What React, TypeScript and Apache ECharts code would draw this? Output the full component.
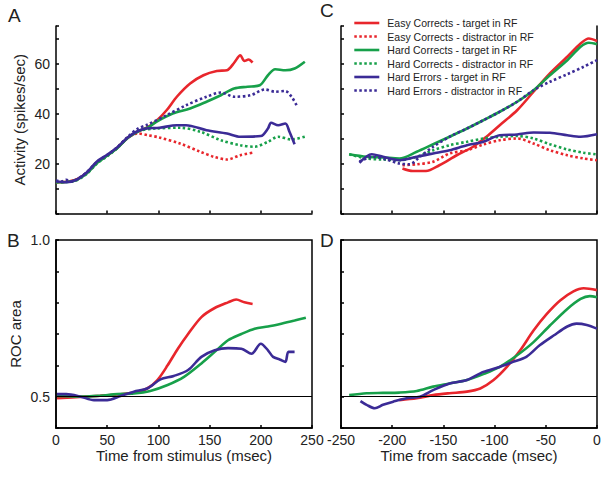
import React, { useEffect, useRef } from "react";
import * as echarts from "echarts";

// ---------- names ----------
const seriesNames = [
  "Easy Corrects - target in RF",
  "Easy Corrects - distractor in RF",
  "Hard Corrects - target in RF",
  "Hard Corrects - distractor in RF",
  "Hard Errors - target in RF",
  "Hard Errors - distractor in RF",
];

// ---------- Panel A: activity aligned on stimulus [ms, spikes/sec] ----------
const aEasyTarget = [[0,12.5],[10,12.7],[20,13.6],[30,16.2],[40,20.4],[50,23.2],[60,26.3],[70,30.2],[80,32.8],[90,34.6],[98,37],[108,41.3],[118,46.7],[131,52],[144,55.3],[157,57],[167,57.3],[174,60.3],[180,63.3],[184,61],[188,61.6],[192,60.4]];
const aEasyDistr = [[0,12.5],[10,12.7],[20,13.5],[30,16.3],[40,20.5],[50,23.3],[60,26.5],[70,30.4],[80,32],[90,31.3],[100,30.5],[121,28],[141,24.7],[154,22.7],[167,21.6],[180,23.3],[192,24.3]];
const aHardTarget = [[0,12.5],[10,12.6],[20,13.4],[30,16],[40,20.2],[50,23.1],[60,26.2],[70,30.2],[80,32.8],[90,34.4],[98,36.7],[114,40],[131,42],[147,44.7],[161,47.3],[174,50],[187,50.7],[199,51.3],[207,55.3],[214,57.7],[224,57.3],[233,58],[243,60.7]];
const aHardDistr = [[0,12.5],[10,12.6],[20,13.3],[30,15.8],[40,20],[50,22.9],[60,26.2],[70,30.3],[80,33],[98,34],[121,34.3],[141,32.7],[161,29.3],[180,27.3],[194,26.7],[207,28.7],[217,30.7],[230,29.6],[245,31]];
const aErrTarget = [[0,12.8],[10,12.5],[20,13.5],[30,16.4],[40,20.8],[50,23.5],[60,26.5],[70,30.4],[80,33],[88,34],[101,34.3],[118,35.3],[127,35.3],[147,33.3],[167,32],[180,30.7],[200,31],[207,34],[210,36.3],[217,35.3],[224,36],[228,32.7],[233,27.7]];
const aErrDistr = [[0,13.2],[5,12.8],[10,13.5],[15,12.8],[20,13.6],[30,16.5],[40,20.6],[50,23.4],[60,26.6],[70,30.6],[80,34],[88,35.3],[108,39.3],[127,43.3],[147,46.7],[161,48.4],[174,46.7],[190,47.3],[204,49.6],[214,48.7],[224,49],[230,46.7],[235,43.3]];

// ---------- Panel C: activity aligned on saccade [ms, spikes/sec] ----------
const cEasyTarget = [[-190,18],[-180,17],[-167,17],[-154,19.3],[-137,23.3],[-121,26.7],[-108,30.7],[-95,35.3],[-78,41.3],[-62,48.7],[-46,56],[-29,62.7],[-16,68],[-8,70],[0,69]];
const cEasyDistr = [[-190,19.3],[-176,19.7],[-160,20.7],[-144,24],[-127,25.3],[-111,27.6],[-95,29.3],[-78,30],[-62,28],[-46,25.3],[-29,23.3],[-13,22],[0,21.3]];
const cHardTarget = [[-242,23.7],[-225,22.7],[-209,22.4],[-193,22],[-176,24.7],[-160,27.7],[-144,30.7],[-127,34],[-111,37.3],[-95,40.7],[-78,44.7],[-62,49.3],[-46,55.3],[-29,61.3],[-16,66.7],[-8,68.3],[0,67.7]];
const cHardDistr = [[-242,23.7],[-225,22],[-209,21.6],[-193,21.3],[-176,22.7],[-160,25.3],[-144,27.3],[-127,28.7],[-111,30],[-95,30.7],[-78,31],[-62,30],[-46,27.7],[-29,25.6],[-13,24.3],[0,23.6]];
const cErrTarget = [[-232,20.3],[-220,23.7],[-209,22.7],[-193,21.3],[-176,22.7],[-160,24],[-144,25.3],[-127,27.3],[-111,28.7],[-95,31.3],[-78,31.6],[-62,32.4],[-46,32.3],[-29,31.3],[-16,30.7],[0,31.7]];
const cErrDistr = [[-232,20.7],[-219,22.7],[-206,21.6],[-193,20],[-183,19.7],[-173,22.7],[-160,26.7],[-144,30.7],[-127,34],[-111,37.3],[-95,40.7],[-78,44.7],[-62,49.3],[-46,52.7],[-29,55.7],[-13,58.7],[0,61.3]];

// ---------- Panel B: ROC area aligned on stimulus ----------
const bEasy = [[1,0.495],[27,0.5],[43,0.503],[60,0.507],[76,0.513],[89,0.526],[99,0.553],[109,0.6],[119,0.653],[129,0.7],[142,0.754],[155,0.783],[168,0.801],[176,0.81],[184,0.801],[192,0.796]];
const bHard = [[1,0.502],[27,0.5],[43,0.503],[60,0.508],[76,0.51],[92,0.518],[109,0.537],[125,0.563],[142,0.606],[155,0.643],[168,0.68],[181,0.7],[194,0.717],[207,0.724],[220,0.733],[233,0.743],[244,0.752]];
const bErr = [[1,0.508],[10,0.508],[24,0.5],[37,0.489],[50,0.489],[63,0.502],[76,0.516],[89,0.526],[102,0.555],[115,0.566],[129,0.585],[142,0.627],[155,0.648],[168,0.655],[181,0.653],[191,0.637],[200,0.669],[207,0.648],[212,0.627],[219,0.618],[224,0.611],[227,0.643],[233,0.643]];

// ---------- Panel D: ROC area aligned on saccade ----------
const dEasy = [[-193,0.489],[-176,0.495],[-160,0.505],[-144,0.511],[-127,0.516],[-114,0.526],[-101,0.553],[-88,0.595],[-75,0.648],[-62,0.711],[-49,0.764],[-36,0.807],[-23,0.836],[-13,0.846],[0,0.84]];
const dHard = [[-242,0.505],[-225,0.511],[-209,0.512],[-193,0.513],[-176,0.518],[-160,0.532],[-144,0.542],[-127,0.553],[-111,0.572],[-95,0.595],[-78,0.632],[-62,0.674],[-46,0.727],[-29,0.78],[-16,0.812],[-7,0.821],[0,0.817]];
const dErr = [[-231,0.486],[-225,0.474],[-217,0.463],[-209,0.474],[-199,0.484],[-186,0.495],[-173,0.5],[-160,0.521],[-144,0.542],[-127,0.553],[-111,0.579],[-95,0.595],[-82,0.611],[-69,0.627],[-56,0.664],[-42,0.696],[-29,0.724],[-20,0.733],[-10,0.729],[0,0.717]];

const stimTicks = [0, 250];
const saccTicks = [-250, 0];
const activityRange = [0, 75];
const rocRange = [0.4, 1.0];

const RED = "#e8262c";
const GREEN = "#17a04a";
const BLUE = "#3b2b96";
const FONT = "'Liberation Sans', Arial, Helvetica, sans-serif";

export default function App() {
  const ref = useRef<HTMLDivElement>(null);

  useEffect(() => {
    if (!ref.current) return;
    const chart = echarts.init(ref.current, undefined, { renderer: "svg" });

    const colors = [RED, RED, GREEN, GREEN, BLUE, BLUE];
    const dotted = [false, true, false, true, false, true];

    const lineSeries = (name: string, data: number[][], xi: number, yi: number, color: string, isDotted: boolean, extra: any = {}) => ({
      type: "line",
      name,
      xAxisIndex: xi,
      yAxisIndex: yi,
      data,
      showSymbol: false,
      symbol: "none",
      smooth: 0.3,
      lineStyle: {
        color,
        width: 2.6,
        type: isDotted ? [2.5, 2.5] : "solid",
        cap: "butt",
      },
      itemStyle: { color },
      z: 3,
      ...extra,
    });

    const aData = [aEasyTarget, aEasyDistr, aHardTarget, aHardDistr, aErrTarget, aErrDistr];
    const cData = [cEasyTarget, cEasyDistr, cHardTarget, cHardDistr, cErrTarget, cErrDistr];

    const series: any[] = [];
    aData.forEach((d, i) => series.push(lineSeries(seriesNames[i], d, 0, 0, colors[i], dotted[i])));
    cData.forEach((d, i) => series.push(lineSeries(seriesNames[i], d, 1, 1, colors[i], dotted[i])));
    const half = { symbol: "none", silent: true, label: { show: false }, lineStyle: { color: "#000", width: 1, type: "solid" }, data: [{ yAxis: 0.5 }] };
    series.push(lineSeries(seriesNames[0], bEasy, 2, 2, RED, false, { markLine: half }));
    series.push(lineSeries(seriesNames[2], bHard, 2, 2, GREEN, false));
    series.push(lineSeries(seriesNames[4], bErr, 2, 2, BLUE, false));
    series.push(lineSeries(seriesNames[0], dEasy, 3, 3, RED, false, { markLine: half }));
    series.push(lineSeries(seriesNames[2], dHard, 3, 3, GREEN, false));
    series.push(lineSeries(seriesNames[4], dErr, 3, 3, BLUE, false));

    const axisLine = { show: true, onZero: false, lineStyle: { color: "#000", width: 1.5 } };
    const axisTick = { show: true, inside: true, length: 3, lineStyle: { color: "#000", width: 1.5 } };
    const label = { color: "#222", fontSize: 14, fontFamily: FONT };
    const nameStyle = { color: "#222", fontSize: 15, fontFamily: FONT };

    const xAxis = (gi: number, range: number[], showLabels: boolean, name: string) => ({
      type: "value",
      gridIndex: gi,
      min: range[0],
      max: range[1],
      interval: 50,
      splitLine: { show: false },
      axisLine,
      axisTick,
      axisLabel: { ...label, show: showLabels, margin: 5, showMinLabel: true, showMaxLabel: true },
      name,
      nameLocation: "middle",
      nameGap: 20,
      nameTextStyle: nameStyle,
    });

    const actFmt = (v: number) => (v === 20 || v === 40 || v === 60 ? String(v) : "");
    const rocFmt = (v: number) => (Math.abs(v - 0.5) < 1e-6 ? "0.5" : Math.abs(v - 1) < 1e-6 ? "1.0" : "");

    const yAxis = (gi: number, range: number[], interval: number, fmt: any, showLabels: boolean, name: string, nameGap: number) => ({
      type: "value",
      gridIndex: gi,
      min: range[0],
      max: range[1],
      interval,
      splitLine: { show: false },
      axisLine,
      axisTick,
      axisLabel: { ...label, show: showLabels, formatter: fmt, margin: 6, showMinLabel: true, showMaxLabel: true },
      name,
      nameLocation: "middle",
      nameGap,
      nameTextStyle: nameStyle,
    });

    const option: any = {
      animation: false,
      backgroundColor: "#fff",
      textStyle: { fontFamily: FONT },
      grid: [
        { left: 56, right: 297, top: 26, height: 187.5 },
        { left: 341, right: 12, top: 26, height: 187.5 },
        { left: 56, right: 297, top: 240, height: 188, show: true, borderColor: "#000", borderWidth: 1.5, backgroundColor: "transparent" },
        { left: 341, right: 12, top: 240, height: 188, show: true, borderColor: "#000", borderWidth: 1.5, backgroundColor: "transparent" },
      ],
      xAxis: [
        xAxis(0, stimTicks, false, ""),
        xAxis(1, saccTicks, false, ""),
        xAxis(2, stimTicks, true, "Time from stimulus (msec)"),
        xAxis(3, saccTicks, true, "Time from saccade (msec)"),
      ],
      yAxis: [
        yAxis(0, activityRange, 10, actFmt, true, "Activity (spikes/sec)", 29),
        yAxis(1, activityRange, 10, actFmt, false, "", 0),
        yAxis(2, rocRange, 0.1, rocFmt, true, "ROC area", 33),
        yAxis(3, rocRange, 0.1, rocFmt, false, "", 0),
        {
          type: "value",
          gridIndex: 1,
          position: "right",
          min: activityRange[0],
          max: activityRange[1],
          axisLine,
          axisTick: { show: false },
          axisLabel: { show: false },
          splitLine: { show: false },
        },
      ],
      legend: {
        data: seriesNames,
        orient: "vertical",
        left: 353,
        top: 17,
        itemWidth: 25,
        itemHeight: 10,
        itemGap: 1.5,
        textStyle: { color: "#222", fontSize: 10.5, fontFamily: FONT, lineHeight: 12, padding: [0, 0, 0, 3] },
        lineStyle: { width: 2.6 },
        itemStyle: { opacity: 0, borderWidth: 0 },
        selectedMode: false,
        padding: 0,
      },
      graphic: [
        { type: "text", left: 8, top: 6, style: { text: "A", fontSize: 19, fontFamily: FONT, fill: "#222" } },
        { type: "text", left: 7, top: 231, style: { text: "B", fontSize: 19, fontFamily: FONT, fill: "#222" } },
        { type: "text", left: 320, top: 1, style: { text: "C", fontSize: 19, fontFamily: FONT, fill: "#222" } },
        { type: "text", left: 320, top: 231, style: { text: "D", fontSize: 19, fontFamily: FONT, fill: "#222" } },
      ],
      series,
    };

    chart.setOption(option);
    return () => chart.dispose();
  }, []);

  return <div ref={ref} style={{ position: "absolute", left: 0, top: 0, width: 609, height: 478 }} />;
}
